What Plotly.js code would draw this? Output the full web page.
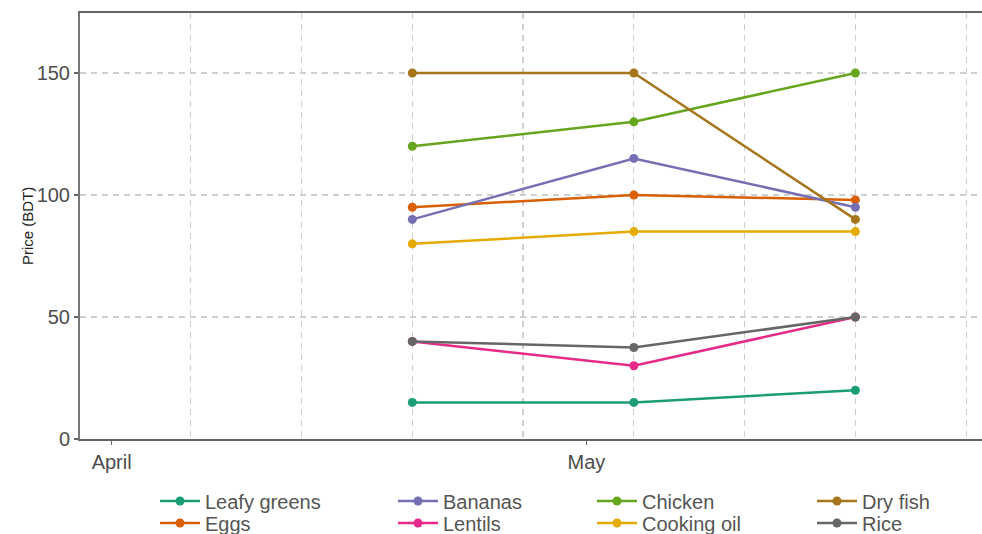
<!DOCTYPE html>
<html>
<head>
<meta charset="utf-8">
<script src="https://cdn.plot.ly/plotly-3.0.1.min.js"></script>
<style>html,body{margin:0;padding:0;background:#fff;}#chart{width:982px;height:534px;}</style>
</head>
<body>
<div id="chart"></div>
<script>
const dates = ['2020-04-20', '2020-05-04', '2020-05-18'];
const seriesNames = ['Leafy greens', 'Eggs', 'Bananas', 'Lentils', 'Chicken', 'Cooking oil', 'Dry fish', 'Rice'];
const leafyGreens = [15, 15, 20];
const eggs = [95, 100, 98];
const bananas = [90, 115, 95];
const lentils = [40, 30, 50];
const chicken = [120, 130, 150];
const cookingOil = [80, 85, 85];
const dryFish = [150, 150, 90];
const rice = [40, 37.5, 50];
const seriesValues = [leafyGreens, eggs, bananas, lentils, chicken, cookingOil, dryFish, rice];
const colors = ['#1B9E77', '#D95F02', '#7570B3', '#E7298A', '#66A61E', '#E6AB02', '#A6761D', '#666666'];
const xTickVals = ['2020-04-01', '2020-05-01'];
const xTickText = ['April', 'May'];
const yTickVals = [0, 50, 100, 150];
const yTitle = 'Price (BDT)';

// legend placement: column origins (px) and row centers (px), column-major order
const legendCols = [155, 393, 592, 812];
const legendRows = [501, 523];

const traces = seriesNames.map((name, i) => ({
  type: 'scatter',
  mode: 'lines+markers',
  name: name,
  x: dates,
  y: seriesValues[i],
  line: {color: colors[i], width: 2.5},
  marker: {color: colors[i], size: 9},
  legend: i === 0 ? 'legend' : 'legend' + (i + 1),
  hoverinfo: 'x+y+name'
}));

const layout = {
  width: 982,
  height: 534,
  margin: {l: 80, r: 0, t: 13, b: 95, autoexpand: false},
  paper_bgcolor: '#ffffff',
  plot_bgcolor: '#ffffff',
  font: {family: 'Liberation Sans, Arial, sans-serif', color: '#4d4d4d'},
  xaxis: {
    type: 'date',
    range: ['2020-03-30', '2020-05-26'],
    tickmode: 'array',
    tickvals: xTickVals,
    ticktext: xTickText,
    tickangle: 0,
    ticks: 'outside',
    ticklen: 4,
    tickwidth: 1.5,
    tickcolor: '#666',
    tickfont: {size: 20, color: '#4d4d4d'},
    showgrid: false,
    showline: true,
    linecolor: '#666',
    linewidth: 2,
    mirror: true,
    zeroline: false,
    minor: {
      tickmode: 'linear',
      tick0: '2020-04-06',
      dtick: 7 * 86400000,
      showgrid: true,
      gridcolor: '#cfcfcf',
      gridwidth: 1.2,
      griddash: '6px,5px',
      ticklen: 0
    }
  },
  yaxis: {
    range: [0, 174.6],
    tickmode: 'array',
    tickvals: yTickVals,
    ticks: 'outside',
    ticklen: 4,
    tickwidth: 1.5,
    tickcolor: '#666',
    tickfont: {size: 20, color: '#4d4d4d'},
    showgrid: true,
    gridcolor: '#cfcfcf',
    gridwidth: 1.2,
    griddash: '6px,5px',
    showline: true,
    linecolor: '#777',
    linewidth: 2,
    zeroline: false
  },
  annotations: [{
    text: yTitle,
    textangle: -90,
    xref: 'paper', yref: 'paper',
    x: (27 - 80) / 902, y: 0.5,
    xanchor: 'center', yanchor: 'middle',
    showarrow: false,
    font: {size: 15, color: '#222'}
  }],
  showlegend: true
};

seriesNames.forEach((name, i) => {
  const col = Math.floor(i / 2);
  const row = i % 2;
  const key = i === 0 ? 'legend' : 'legend' + (i + 1);
  layout[key] = {
    xref: 'container', yref: 'container',
    x: legendCols[col] / 982,
    y: 1 - legendRows[row] / 534,
    xanchor: 'left', yanchor: 'middle',
    orientation: 'v',
    bgcolor: 'rgba(0,0,0,0)',
    borderwidth: 0,
    itemwidth: 40,
    font: {size: 20, color: '#555'}
  };
});

Plotly.newPlot('chart', traces, layout, {displayModeBar: false, staticPlot: true});
</script>
</body>
</html>
